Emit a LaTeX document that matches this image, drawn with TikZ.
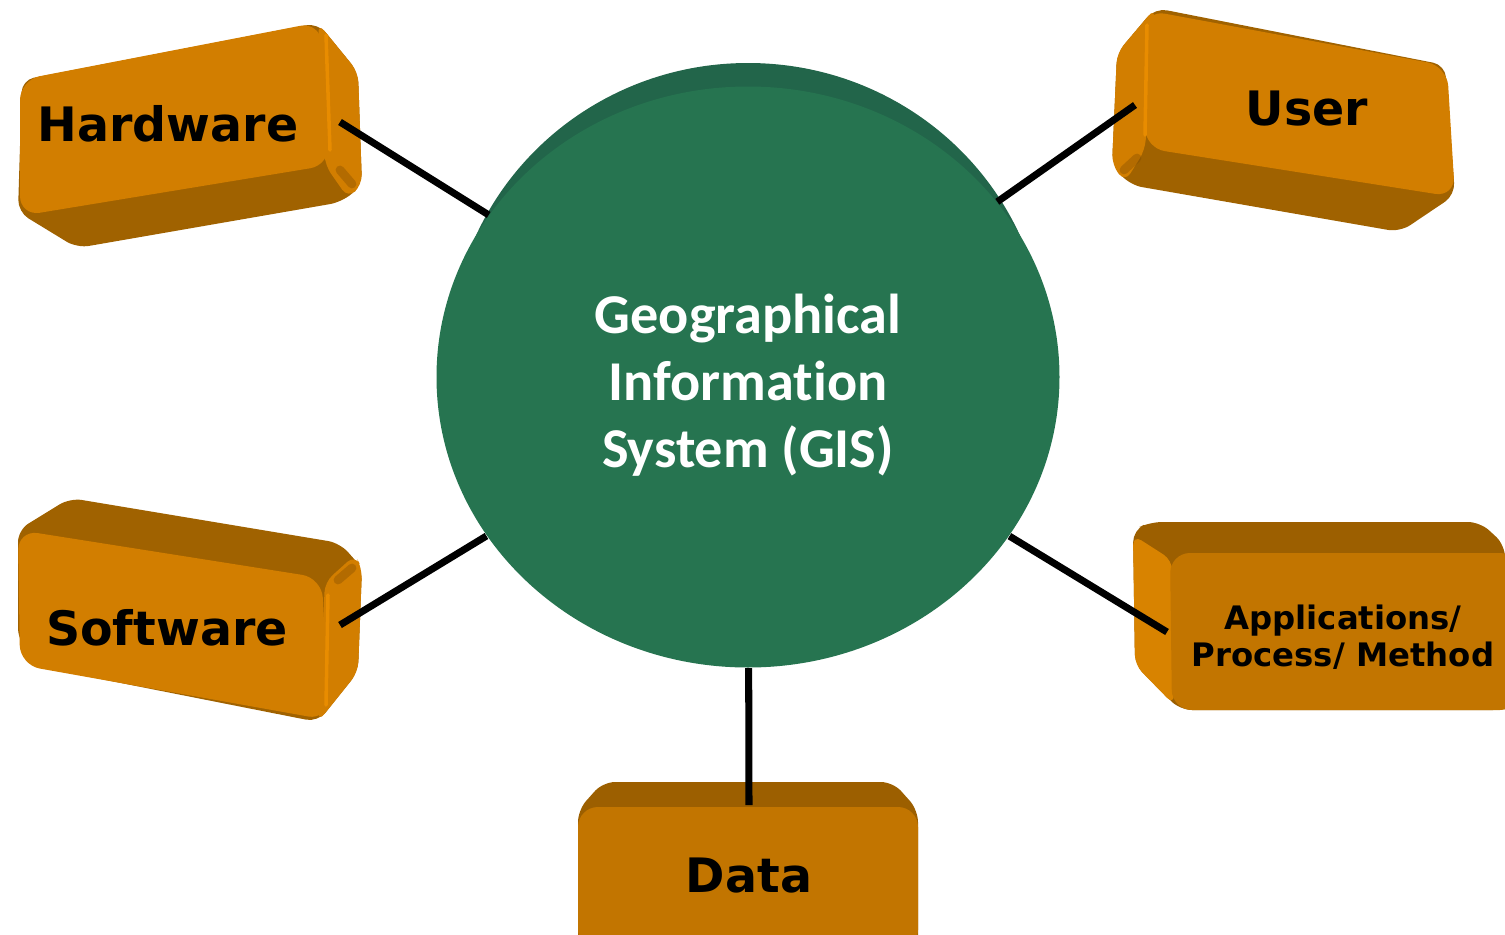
\documentclass[tikz,border=0pt]{standalone}
\usepackage{fontspec}
\newfontfamily\keyfont{DejaVu Sans}
\newfontfamily\gisfont{Carlito}[Ligatures=NoCommon]
\usetikzlibrary{shapes.geometric}
\definecolor{keyorange}{HTML}{D27E00}
\definecolor{keyamber}{HTML}{C27500}
\definecolor{keylight}{HTML}{D88300}
\definecolor{keydark}{HTML}{A06200}
\definecolor{keytop}{HTML}{9C5F00}
\definecolor{keyedge}{HTML}{E88C00}
\definecolor{keyshade}{HTML}{7A4800}
\definecolor{gisgreen}{HTML}{267450}
\definecolor{gisrim}{HTML}{22654A}
\tikzset{
  keybody/.style={fill=keydark,rounded corners=1.2mm},
  keytopbody/.style={fill=keytop,rounded corners=1.2mm},
  keyside/.style={fill=keyorange,rounded corners=1mm},
  keyface/.style={fill=keyorange,rounded corners=2mm},
  amberface/.style={fill=keyamber,rounded corners=2mm},
  keyedgeline/.style={draw=keyedge,line width=1pt,line cap=round},
  keyshadow/.style={draw=keyshade,line width=2.5pt,line cap=round,opacity=.35},
  keylabel/.style={font=\keyfont\bfseries\fontsize{13.5}{16}\selectfont,anchor=base,inner sep=0pt},
  applabel/.style={font=\keyfont\bfseries\fontsize{9.2}{10.5}\selectfont,align=center,inner sep=0pt},
  gisdisc/.style={ellipse,fill=gisgreen,minimum width=62.3mm,minimum height=58.1mm,inner sep=0pt},
  gistext/.style={text=white,align=center,inner sep=0pt,font=\gisfont\bfseries\fontsize{16}{19}\selectfont},
  spoke/.style={draw=black,line width=2pt}
}
\begin{document}
\begin{tikzpicture}[x=0.1mm,y=-0.1mm]
  \useasboundingbox (0,0) rectangle (1505,934);

  % Hardware key
  \fill[keybody] (22,80) -- (318,23) -- (358,72) -- (362,185) -- (342,202) -- (77,248) -- (18,212) -- cycle;
  \fill[keyside] (318,23) -- (358,72) -- (362,185) -- (348,198) -- (325,165) -- cycle;
  \fill[keyface] (20,80) -- (320,22) -- (330,165) -- (20,216) -- cycle;
  \draw[keyedgeline] (326,35) -- (330,150);
  \draw[keyshadow] (340,170) -- (352,184);
  \node[keylabel] (hw) at (168,141) {Hardware};

  % User key
  \fill[keybody] (1117,53) -- (1155,8) -- (1445,65) -- (1455,195) -- (1400,232) -- (1130,185) -- (1112,165) -- cycle;
  \fill[keyside] (1155,8) -- (1117,53) -- (1112,165) -- (1125,182) -- (1145,150) -- cycle;
  \fill[keyface] (1145,10) -- (1447,66) -- (1455,197) -- (1145,148) -- cycle;
  \draw[keyedgeline] (1147,25) -- (1145,135);
  \draw[keyshadow] (1137,158) -- (1124,170);
  \node[keylabel] (user) at (1307,125) {User};

  % Software key
  \fill[keybody] (18,530) -- (70,498) -- (340,543) -- (362,568) -- (358,672) -- (318,722) -- (40,667) -- (18,640) -- cycle;
  \fill[keyside] (325,582) -- (355,555) -- (362,568) -- (358,672) -- (318,722) -- cycle;
  \fill[keyface] (18,530) -- (322,578) -- (328,720) -- (20,665) -- cycle;
  \draw[keyedgeline] (328,595) -- (326,705);
  \draw[keyshadow] (338,580) -- (352,568);
  \node[keylabel] (sw) at (167,645) {Software};

  % Applications key
  \fill[keytopbody] (1150,522) -- (1480,522) -- (1505,545) -- (1505,710) -- (1180,710) -- (1135,665) -- (1133,530) -- cycle;
  \fill[keylight,rounded corners=1mm] (1133,535) -- (1172,560) -- (1174,705) -- (1135,665) -- cycle;
  \fill[amberface] (1170,553) -- (1520,553) -- (1520,710) -- (1172,710) -- cycle;
  \node[applabel] (apps) at (1343,637) {Applications/\\Process/ Method};

  % Data key
  \fill[keytopbody] (603,782) -- (893,782) -- (918,810) -- (918,950) -- (578,950) -- (578,810) -- cycle;
  \fill[amberface] (578,807) -- (918,807) -- (918,950) -- (578,950) -- cycle;
  \node[keylabel] (data) at (749,892) {Data};

  % GIS disc
  \fill[gisrim] (748,355) ellipse [x radius=298, y radius=292];
  \node[gisdisc] (gis) at (748,377) {};
  \node[gistext] (gis-label) at (748,385) {Geographical\\Information\\System (GIS)};

  % spokes
  \coordinate (hw-in) at (340,122);
  \coordinate (user-in) at (1135,105);
  \coordinate (sw-in) at (340,625);
  \coordinate (apps-in) at (1167,632);
  \coordinate (data-in) at (749,805);
  \draw[spoke] (gis) -- (hw-in);
  \draw[spoke] (gis) -- (user-in);
  \draw[spoke] (gis) -- (sw-in);
  \draw[spoke] (gis) -- (apps-in);
  \draw[spoke] (gis) -- (data-in);
\end{tikzpicture}
\end{document}
